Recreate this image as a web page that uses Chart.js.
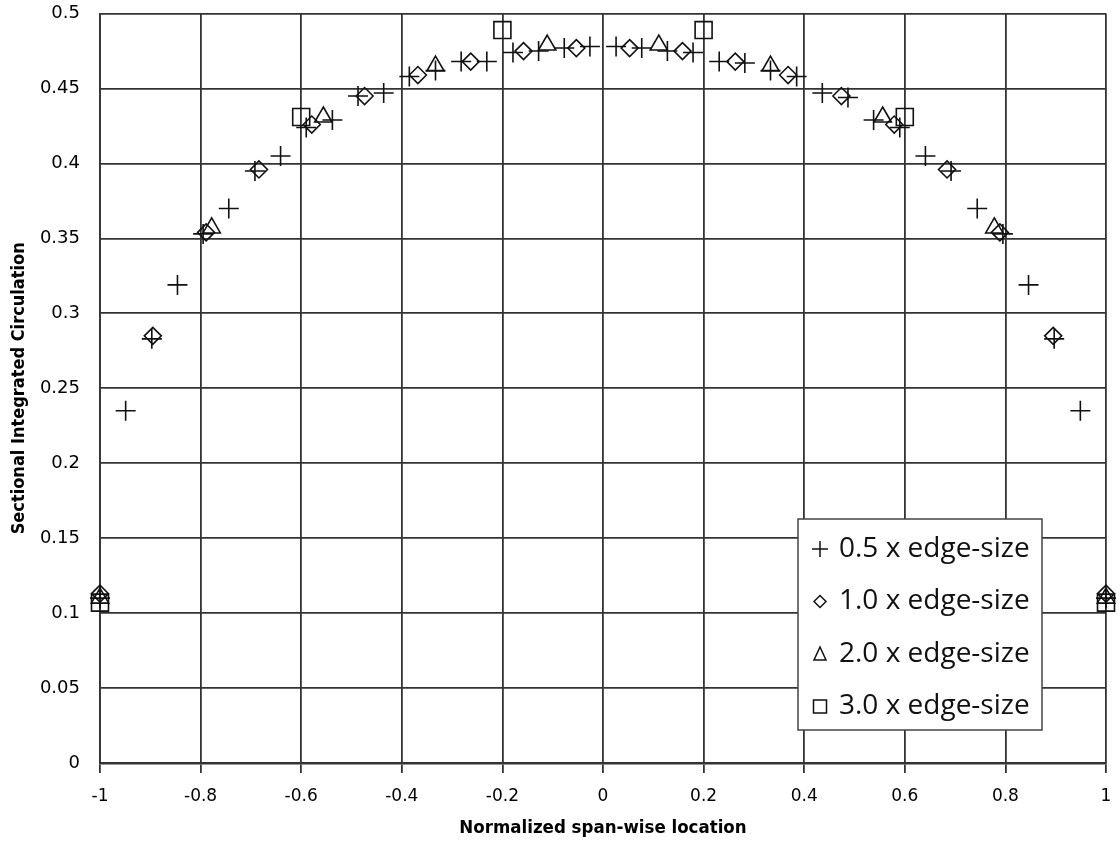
<!DOCTYPE html>
<html>
<head>
<meta charset="utf-8">
<title>Sectional integrated circulation</title>
<script src="https://cdn.jsdelivr.net/npm/chart.js@4.4.0/dist/chart.umd.min.js"></script>
<style>
  html, body { margin: 0; padding: 0; background: #fff; }
  canvas { display: block; }
</style>
</head>
<body>
<canvas id="circChart" width="1120" height="843"></canvas>
<script>
// span-wise stations and circulation for each mesh refinement
const x05 = [-1, -0.949, -0.897, -0.846, -0.795, -0.744, -0.692, -0.641, -0.590, -0.538,
  -0.487, -0.436, -0.385, -0.333, -0.282, -0.231, -0.179, -0.128, -0.077, -0.026,
  0.026, 0.077, 0.128, 0.179, 0.231, 0.282, 0.333, 0.385, 0.436, 0.487,
  0.538, 0.590, 0.641, 0.692, 0.744, 0.795, 0.846, 0.897, 0.949, 1];
const y05 = [0.110, 0.235, 0.283, 0.319, 0.353, 0.370, 0.395, 0.405, 0.424, 0.429,
  0.445, 0.447, 0.458, 0.462, 0.468, 0.468, 0.474, 0.475, 0.477, 0.478,
  0.478, 0.477, 0.475, 0.474, 0.468, 0.467, 0.462, 0.458, 0.447, 0.444,
  0.429, 0.424, 0.405, 0.395, 0.370, 0.353, 0.319, 0.283, 0.235, 0.110];

const x10 = [-1, -0.895, -0.789, -0.684, -0.579, -0.474, -0.368, -0.263, -0.158, -0.053,
  0.053, 0.158, 0.263, 0.368, 0.474, 0.579, 0.684, 0.789, 0.895, 1];
const y10 = [0.113, 0.285, 0.354, 0.396, 0.426, 0.445, 0.459, 0.468, 0.475, 0.477,
  0.477, 0.475, 0.468, 0.459, 0.445, 0.426, 0.396, 0.354, 0.285, 0.113];

const x20 = [-1, -0.778, -0.556, -0.333, -0.111, 0.111, 0.333, 0.556, 0.778, 1];
const y20 = [0.110, 0.357, 0.431, 0.465, 0.479, 0.479, 0.465, 0.431, 0.357, 0.110];

const x30 = [-1, -0.6, -0.2, 0.2, 0.6, 1];
const y30 = [0.107, 0.431, 0.489, 0.489, 0.431, 0.107];

const seriesLabels = ['0.5 x edge-size', '1.0 x edge-size', '2.0 x edge-size', '3.0 x edge-size'];
const pointStyles = ['cross', 'rectRot', 'triangle', 'rect'];
const pointRadii = [10, 8.5, 10, 12];

const xTicks = { min: -1, max: 1, step: 0.2 };
const yTicks = { min: 0, max: 0.5, step: 0.05 };

const xTitle = 'Normalized span-wise location';
const yTitle = 'Sectional Integrated Circulation';

const pairs = [[x05, y05], [x10, y10], [x20, y20], [x30, y30]];

const datasets = pairs.map(([xs, ys], i) => ({
  label: seriesLabels[i],
  data: xs.map((x, k) => ({ x, y: ys[k] })),
  pointStyle: pointStyles[i],
  pointRadius: pointRadii[i],
  pointHoverRadius: pointRadii[i],
  borderColor: '#111',
  backgroundColor: 'transparent',
  pointBorderWidth: 1.6,
  showLine: false,
  clip: false
}));

// small marker glyphs for the legend box
function legendMarker(ctx, style, cx, cy) {
  ctx.beginPath();
  if (style === 'cross') {
    ctx.moveTo(cx - 8, cy); ctx.lineTo(cx + 8, cy);
    ctx.moveTo(cx, cy - 8); ctx.lineTo(cx, cy + 8);
  } else if (style === 'rectRot') {
    ctx.moveTo(cx - 6, cy); ctx.lineTo(cx, cy - 6);
    ctx.lineTo(cx + 6, cy); ctx.lineTo(cx, cy + 6); ctx.closePath();
  } else if (style === 'triangle') {
    ctx.moveTo(cx, cy - 7); ctx.lineTo(cx + 6, cy + 6);
    ctx.lineTo(cx - 6, cy + 6); ctx.closePath();
  } else {
    ctx.rect(cx - 6.5, cy - 6.5, 13, 13);
  }
  ctx.stroke();
}

const legendBox = {
  id: 'legendBox',
  afterDatasetsDraw(chart) {
    const { ctx, chartArea } = chart;
    const w = 244, h = 211;
    const left = chartArea.right - 64 - w;
    const top = chartArea.bottom - 33 - h;
    ctx.save();
    ctx.fillStyle = '#fff';
    ctx.fillRect(left, top, w, h);
    ctx.strokeStyle = '#444';
    ctx.lineWidth = 1.5;
    ctx.strokeRect(left, top, w, h);

    ctx.font = '28px "Open Sans", Lato, sans-serif';
    ctx.textBaseline = 'middle';
    ctx.textAlign = 'left';
    seriesLabels.forEach((label, i) => {
      const cy = top + 30 + i * 52.5;
      ctx.strokeStyle = '#111';
      ctx.lineWidth = 1.5;
      legendMarker(ctx, pointStyles[i], left + 22, cy);
      ctx.fillStyle = '#111';
      ctx.fillText(label, left + 41, cy);
    });
    ctx.restore();
  }
};

const fmt = (v, d) => String(+v.toFixed(d));

new Chart(document.getElementById('circChart'), {
  type: 'scatter',
  data: { datasets },
  options: {
    responsive: false,
    animation: false,
    events: [],
    layout: { padding: { top: 13, right: 14, left: 0, bottom: 0 } },
    plugins: {
      legend: { display: false },
      tooltip: { enabled: false }
    },
    scales: {
      x: {
        type: 'linear',
        min: xTicks.min,
        max: xTicks.max,
        afterFit: s => { s.height = 80; s.paddingLeft = 0; s.paddingRight = 0; },
        ticks: {
          stepSize: xTicks.step,
          padding: 13,
          color: '#000',
          font: { family: '"DejaVu Sans", sans-serif', size: 17 },
          callback: v => fmt(v, 1)
        },
        grid: { color: '#333', lineWidth: 1.8, tickLength: 10, tickColor: '#333' },
        border: { color: '#333', width: 2.5 },
        title: {
          display: true,
          text: xTitle,
          color: '#000',
          padding: { top: 0, bottom: 4 },
          font: { family: '"DejaVu Sans Condensed", "DejaVu Sans", sans-serif', size: 18.5, weight: 'bold' }
        }
      },
      y: {
        type: 'linear',
        min: yTicks.min,
        max: yTicks.max,
        afterFit: s => { s.width = 100; s.paddingTop = 0; s.paddingBottom = 0; },
        ticks: {
          stepSize: yTicks.step,
          padding: 20,
          color: '#000',
          font: { family: '"DejaVu Sans", sans-serif', size: 18 },
          callback: v => fmt(v, 2)
        },
        grid: { color: '#333', lineWidth: 1.8, drawTicks: false },
        border: { color: '#333', width: 1.8 },
        title: {
          display: true,
          text: yTitle,
          color: '#000',
          padding: { top: 9, bottom: 0 },
          font: { family: '"DejaVu Sans Condensed", "DejaVu Sans", sans-serif', size: 18, weight: 'bold' }
        }
      }
    }
  },
  plugins: [legendBox]
});
</script>
</body>
</html>
